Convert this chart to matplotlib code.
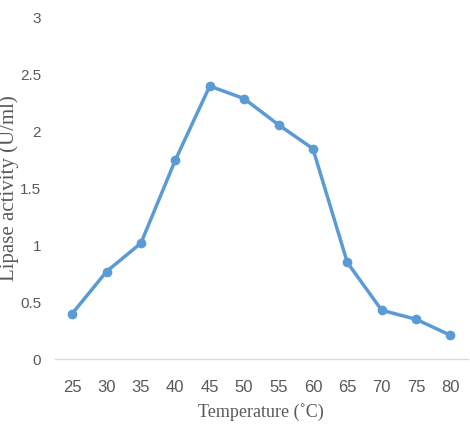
import matplotlib
matplotlib.use('Agg')
import matplotlib.pyplot as plt

temps = ['25', '30', '35', '40', '45', '50', '55', '60', '65', '70', '75', '80']
activity = [0.40, 0.77, 1.02, 1.75, 2.40, 2.29, 2.06, 1.85, 0.85, 0.43, 0.35, 0.21]
y_ticks = [0, 0.5, 1, 1.5, 2, 2.5, 3]
y_tick_labels = ['0', '0.5', '1', '1.5', '2', '2.5', '3']

grey = '#595959'
tick_font = ['Liberation Sans Narrow', 'Liberation Sans', 'DejaVu Sans']


def main():
    fig = plt.figure(figsize=(4.7, 4.25), dpi=100)
    ax = fig.add_axes([0.117, 0.155, 0.878, 0.803])

    x = range(len(temps))
    ax.plot(x, activity, color='#5B9BD5', linewidth=2.5,
            marker='o', markersize=7, markeredgewidth=0)

    ax.set_xlim(-0.5, len(temps) - 0.5)
    ax.set_ylim(0, 3)
    ax.set_xticks(list(x))
    ax.set_xticklabels(temps, family=tick_font, fontsize=12, color=grey)
    ax.set_yticks(y_ticks)
    ax.set_yticklabels(y_tick_labels, family=tick_font, fontsize=11, color=grey)
    ax.tick_params(axis='x', length=0, pad=15)
    ax.tick_params(axis='y', length=0, pad=10)

    for side in ['top', 'right', 'left']:
        ax.spines[side].set_visible(False)
    ax.spines['bottom'].set_color('#d9d9d9')
    ax.spines['bottom'].set_linewidth(1)

    ax.set_xlabel('Temperature (˚C)', family='Liberation Serif', fontsize=13,
                  color=grey, labelpad=6)
    ax.set_ylabel('Lipase activity (U/ml)', family='Liberation Serif', fontsize=15,
                  color=grey)
    ax.yaxis.set_label_coords(-0.087, 0.5)

    fig.savefig('out.png', dpi=100)


if __name__ == '__main__':
    main()
